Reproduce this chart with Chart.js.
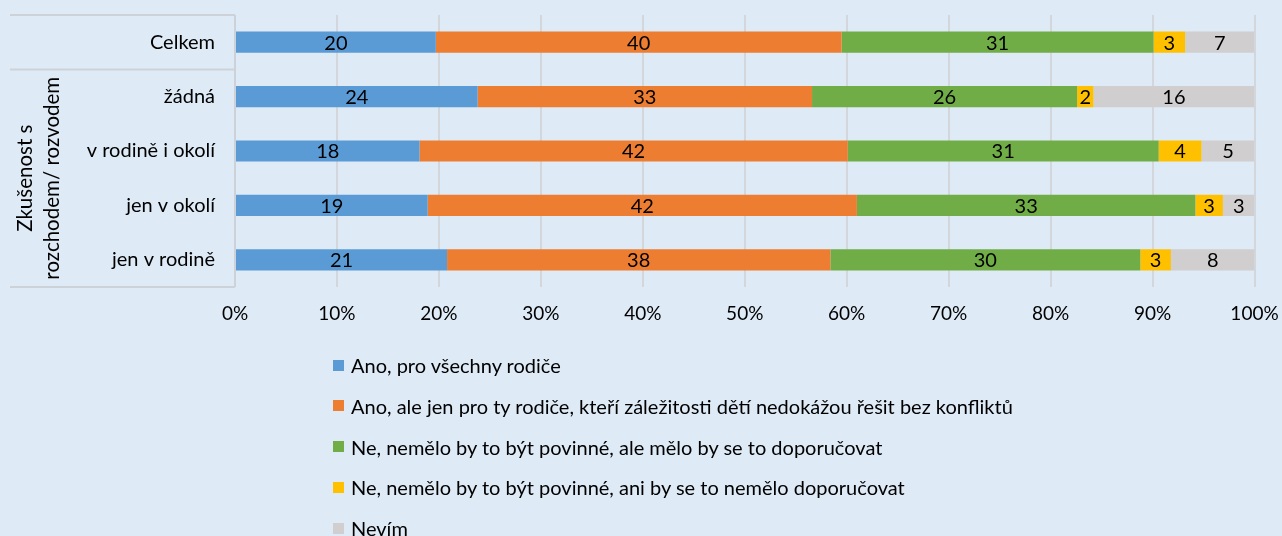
<!DOCTYPE html>
<html><head><meta charset="utf-8">
<script src="https://cdn.jsdelivr.net/npm/chart.js@4.4.1/dist/chart.umd.min.js"></script>
<style>
html,body{margin:0;padding:0;background:#DEEAF6;}
#wrap{position:relative;width:1282px;height:536px;overflow:hidden;background:#DEEAF6;}
#c{position:absolute;left:0;top:0;}
#legend{position:absolute;left:333px;top:0;font-family:Lato,'Open Sans',sans-serif;font-size:20px;color:#000;}
.item{position:absolute;left:0;white-space:nowrap;display:flex;align-items:center;height:24px;}
.sw{width:11px;height:11px;margin-right:7px;flex:none;}
</style></head>
<body><div id="wrap"><canvas id="c" width="1282" height="536"></canvas><div id="legend"></div></div>
<script>
const categories = ['Celkem', 'žádná', 'v rodině i okolí', 'jen v okolí', 'jen v rodině'];
const seriesNames = [
  'Ano, pro všechny rodiče',
  'Ano, ale jen pro ty rodiče, kteří záležitosti dětí nedokážou řešit bez konfliktů',
  'Ne, nemělo by to být povinné, ale mělo by se to doporučovat',
  'Ne, nemělo by to být povinné, ani by se to nemělo doporučovat',
  'Nevím'
];
const anoVsichni    = [19.7, 23.8, 18.1, 18.9, 20.8];
const anoKonflikt   = [39.8, 32.8, 42.0, 42.1, 37.6];
const neDoporucovat = [30.6, 26.0, 30.5, 33.2, 30.4];
const neAni         = [3.1, 1.6, 4.2, 2.7, 3.0];
const nevim         = [6.8, 15.8, 5.2, 3.1, 8.2];
const xTickValues   = [0, 10, 20, 30, 40, 50, 60, 70, 80, 90, 100];
const groupLabel    = ['Zkušenost s', 'rozchodem/ rozvodem'];
const colors = ['#5B9BD5', '#ED7D31', '#70AD47', '#FFC000', '#D0CECE'];

const seriesValues = [anoVsichni, anoKonflikt, neDoporucovat, neAni, nevim];
const FONT = 'Lato, "Open Sans", sans-serif';

const valueLabels = {
  id: 'valueLabels',
  afterDatasetsDraw(chart) {
    const ctx = chart.ctx;
    ctx.save();
    ctx.font = '20px ' + FONT;
    ctx.fillStyle = '#000';
    ctx.textAlign = 'center';
    ctx.textBaseline = 'middle';
    chart.data.datasets.forEach((ds, di) => {
      const meta = chart.getDatasetMeta(di);
      meta.data.forEach((el, i) => {
        const v = ds.data[i];
        const cx = (el.x + el.base) / 2;
        ctx.fillText(String(Math.round(v)), cx, el.y + 1);
      });
    });
    ctx.restore();
  }
};

const leftFrame = {
  id: 'leftFrame',
  afterDraw(chart) {
    const ctx = chart.ctx;
    const a = chart.chartArea;
    const ys = chart.scales.y;
    const b1 = (ys.getPixelForValue(0) + ys.getPixelForValue(1)) / 2;
    ctx.save();
    ctx.strokeStyle = '#cdd2d8';
    ctx.lineWidth = 2;
    ctx.beginPath();
    ctx.moveTo(10, a.top); ctx.lineTo(a.left, a.top);
    ctx.moveTo(10, b1); ctx.lineTo(a.left, b1);
    ctx.moveTo(10, a.bottom); ctx.lineTo(a.left, a.bottom);
    ctx.moveTo(a.left, a.top); ctx.lineTo(a.left, a.bottom);
    ctx.stroke();
    const cy = (b1 + a.bottom) / 2;
    ctx.fillStyle = '#000';
    ctx.font = '20.5px ' + FONT;
    ctx.textAlign = 'center';
    ctx.textBaseline = 'middle';
    const xs = [25, 52];
    groupLabel.forEach((t, i) => {
      ctx.save();
      ctx.translate(xs[i], cy);
      ctx.rotate(-Math.PI / 2);
      ctx.fillText(t, 0, 0);
      ctx.restore();
    });
    ctx.restore();
  }
};

new Chart(document.getElementById('c'), {
  type: 'bar',
  data: {
    labels: categories,
    datasets: seriesNames.map((n, i) => ({
      label: n,
      data: seriesValues[i],
      backgroundColor: colors[i],
      borderWidth: 0,
      barPercentage: 0.39,
      categoryPercentage: 1
    }))
  },
  options: {
    indexAxis: 'y',
    responsive: false,
    animation: false,
    layout: { padding: { top: 15, right: 27.5, bottom: 0, left: 0 } },
    plugins: { legend: { display: false }, tooltip: { enabled: false } },
    scales: {
      x: {
        stacked: true, min: 0, max: 100,
        afterBuildTicks(s) { s.ticks = xTickValues.map(v => ({ value: v })); },
        afterFit(s) { s.height = 249; s.paddingLeft = 0; s.paddingRight = 0; s.paddingTop = 0; s.paddingBottom = 0; },
        ticks: { callback: v => v + '%', font: { family: FONT, size: 19 }, color: '#000', padding: 15, maxRotation: 0 },
        grid: { color: '#d3d7dc', lineWidth: 2, drawTicks: false },
        border: { display: false }
      },
      y: {
        stacked: true,
        afterFit(s) { s.width = 235; s.paddingLeft = 0; s.paddingRight = 0; s.paddingTop = 0; s.paddingBottom = 0; },
        ticks: { font: { family: FONT, size: 20 }, color: '#000', padding: 20 },
        grid: { display: false, drawTicks: false },
        border: { display: false }
      }
    }
  },
  plugins: [valueLabels, leftFrame]
});

const lg = document.getElementById('legend');
seriesNames.forEach((n, i) => {
  const d = document.createElement('div');
  d.className = 'item';
  d.style.top = (365 + i * 40.8 - 12) + 'px';
  const sw = document.createElement('span');
  sw.className = 'sw';
  sw.style.background = colors[i];
  const tx = document.createElement('span');
  tx.textContent = n;
  d.appendChild(sw); d.appendChild(tx);
  lg.appendChild(d);
});
</script>
</body></html>
